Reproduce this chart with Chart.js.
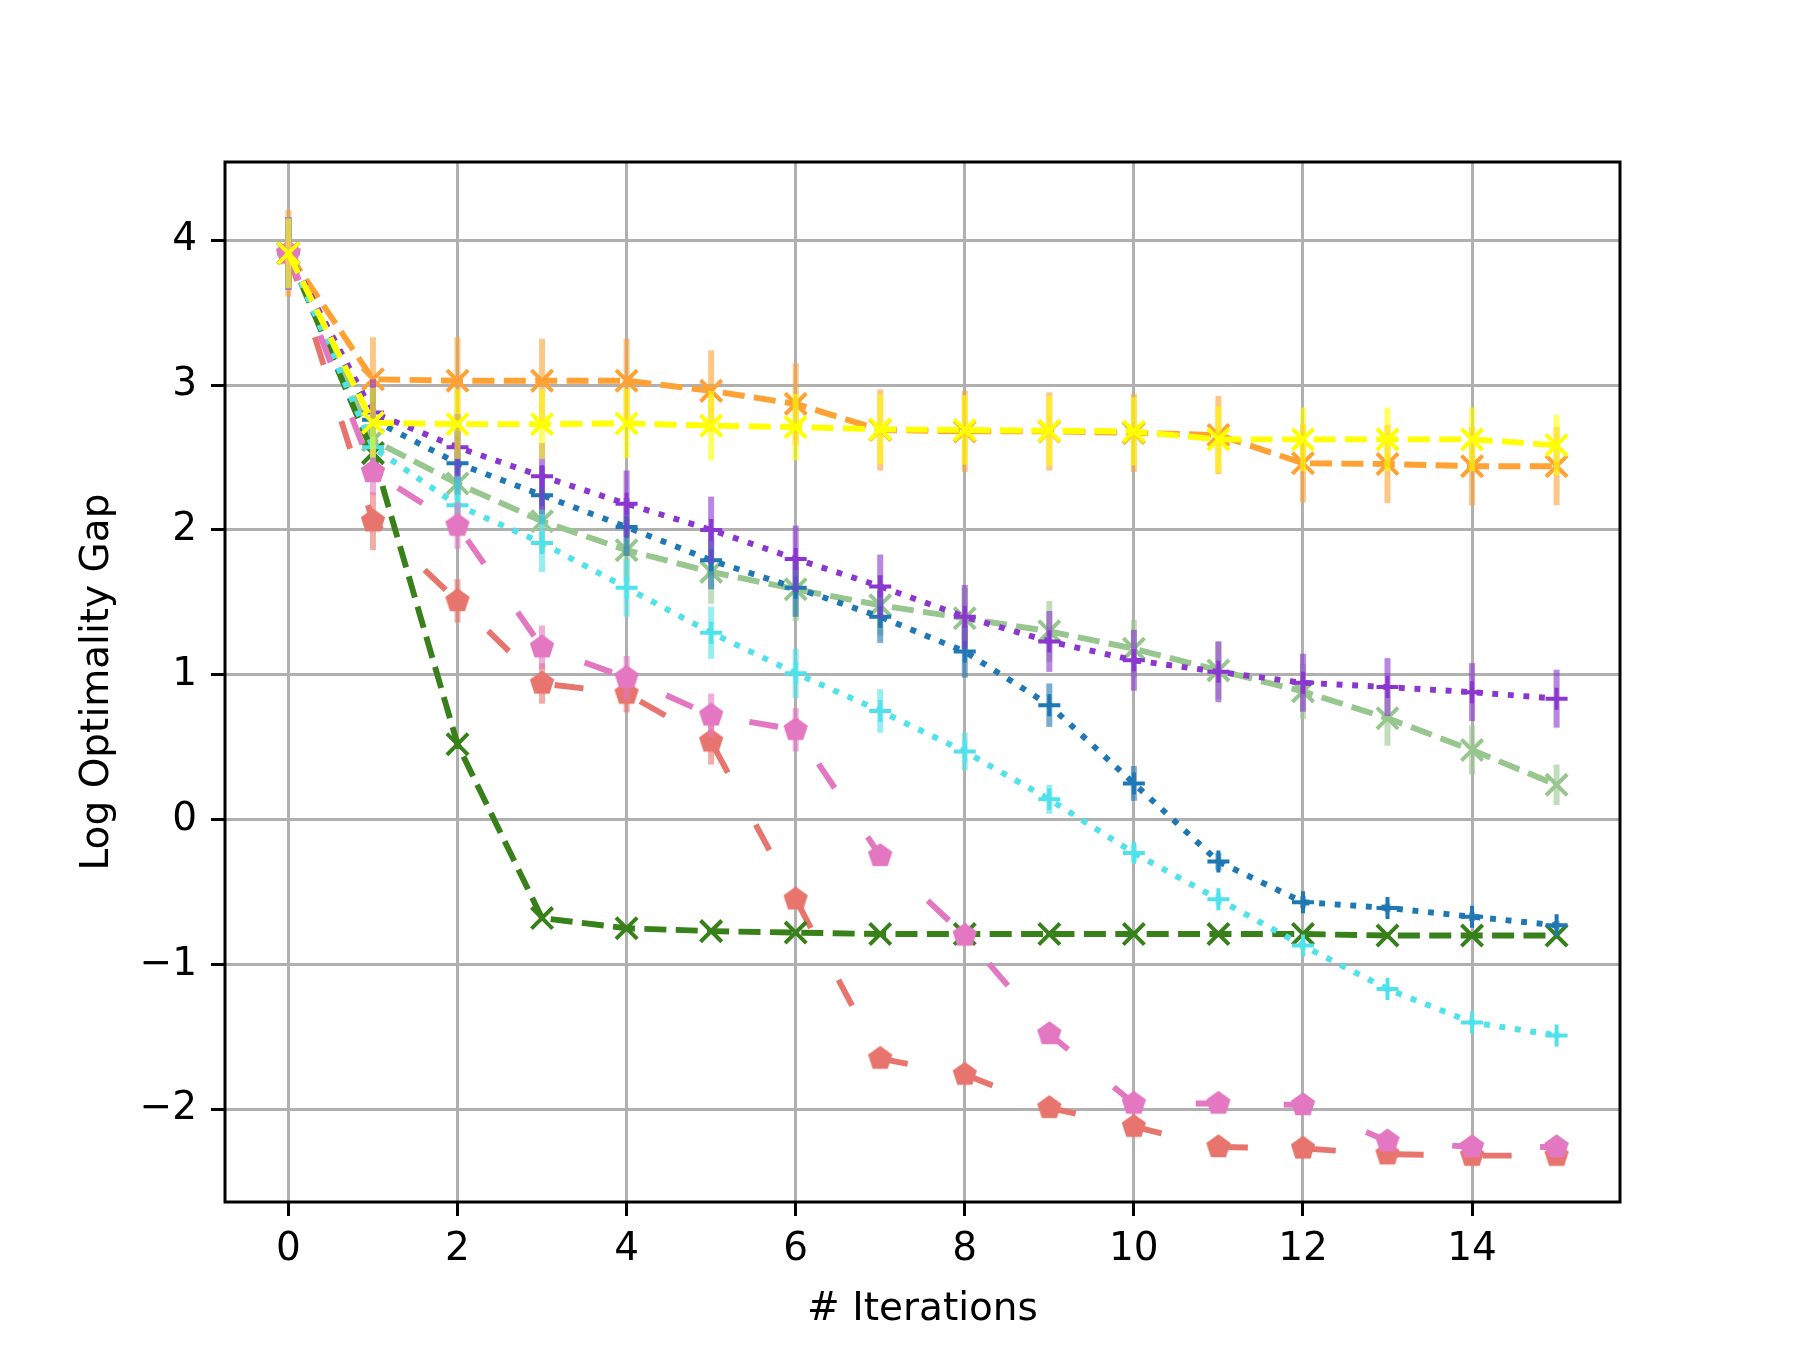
<!DOCTYPE html>
<html>
<head>
<meta charset="utf-8">
<script src="https://cdn.jsdelivr.net/npm/chart.js@4.4.1/dist/chart.umd.min.js"></script>
<style>
html, body { margin: 0; padding: 0; background: #fff; }
#wrap { width: 1800px; height: 1350px; position: relative; }
</style>
</head>
<body>
<div id="wrap"><canvas id="chart"></canvas></div>
<script>
// x positions and tick values
const iterations = [0, 1, 2, 3, 4, 5, 6, 7, 8, 9, 10, 11, 12, 13, 14, 15];
const xTicks = [0, 2, 4, 6, 8, 10, 12, 14];
const yTicks = [-2, -1, 0, 1, 2, 3, 4];

// mean log optimality gap and error (half width) per series
const orangeGap = [3.91, 3.04, 3.03, 3.03, 3.03, 2.96, 2.87, 2.69, 2.68, 2.68, 2.67, 2.655, 2.46, 2.455, 2.44, 2.44];
const orangeErr = [0.30, 0.29, 0.30, 0.29, 0.29, 0.28, 0.28, 0.28, 0.28, 0.27, 0.27, 0.27, 0.27, 0.27, 0.27, 0.27];

const yellowGap = [3.91, 2.74, 2.73, 2.73, 2.735, 2.72, 2.71, 2.695, 2.69, 2.685, 2.68, 2.625, 2.625, 2.625, 2.625, 2.585];
const yellowErr = [0.24, 0.24, 0.24, 0.24, 0.24, 0.24, 0.23, 0.24, 0.24, 0.24, 0.235, 0.23, 0.22, 0.22, 0.22, 0.21];

const purpleGap = [3.91, 2.81, 2.57, 2.37, 2.18, 2.00, 1.80, 1.61, 1.40, 1.23, 1.10, 1.02, 0.945, 0.915, 0.88, 0.835];
const purpleErr = [0.25, 0.23, 0.23, 0.23, 0.23, 0.23, 0.23, 0.22, 0.22, 0.21, 0.21, 0.21, 0.20, 0.20, 0.20, 0.20];

const blueGap = [3.91, 2.76, 2.46, 2.24, 2.02, 1.79, 1.60, 1.40, 1.16, 0.79, 0.25, -0.29, -0.57, -0.61, -0.67, -0.73];
const blueErr = [0.25, 0.22, 0.22, 0.20, 0.20, 0.20, 0.20, 0.18, 0.18, 0.15, 0.12, 0.06, 0.04, 0.03, 0.03, 0.03];

const lightGreenGap = [3.91, 2.62, 2.32, 2.06, 1.86, 1.71, 1.59, 1.48, 1.39, 1.30, 1.18, 1.03, 0.885, 0.70, 0.48, 0.24];
const lightGreenErr = [0.25, 0.22, 0.22, 0.22, 0.22, 0.22, 0.22, 0.21, 0.21, 0.21, 0.20, 0.20, 0.19, 0.19, 0.17, 0.14];

const cyanGap = [3.91, 2.57, 2.17, 1.91, 1.60, 1.29, 1.01, 0.75, 0.47, 0.14, -0.23, -0.55, -0.87, -1.17, -1.40, -1.49];
const cyanErr = [0.25, 0.20, 0.20, 0.20, 0.20, 0.18, 0.17, 0.15, 0.13, 0.10, 0.06, 0.04, 0.03, 0.02, 0.02, 0.02];

const pinkGap = [3.91, 2.40, 2.03, 1.19, 0.98, 0.72, 0.62, -0.25, -0.80, -1.48, -1.96, -1.96, -1.97, -2.22, -2.26, -2.26];
const pinkErr = [0.25, 0.16, 0.16, 0.15, 0.15, 0.15, 0.15, 0.04, 0.03, 0.03, 0.03, 0.03, 0.02, 0.02, 0.02, 0.02];

const redGap = [3.91, 2.06, 1.51, 0.94, 0.87, 0.54, -0.55, -1.65, -1.76, -1.99, -2.12, -2.26, -2.27, -2.31, -2.32, -2.32];
const redErr = [0.25, 0.20, 0.15, 0.14, 0.13, 0.16, 0.05, 0.03, 0.03, 0.02, 0.02, 0.02, 0.02, 0.02, 0.02, 0.02];

const darkGreenGap = [3.91, 2.53, 0.52, -0.68, -0.75, -0.77, -0.78, -0.79, -0.79, -0.79, -0.79, -0.79, -0.79, -0.80, -0.80, -0.80];
const darkGreenErr = [0.20, 0.05, 0.03, 0.02, 0.02, 0.02, 0.02, 0.02, 0.02, 0.02, 0.02, 0.02, 0.02, 0.02, 0.02, 0.02];

// line styles
const DASHED = [22, 9.4];
const DOTTED = [5.9, 9.7];
const LOOSE = [29, 59];
const FONT = 'DejaVu Sans';

function pentagon(color) {
    const c = document.createElement('canvas');
    c.width = 30;
    c.height = 30;
    const g = c.getContext('2d');
    g.fillStyle = color;
    g.beginPath();
    for (let k = 0; k < 5; k++) {
        const a = -Math.PI / 2 + k * 2 * Math.PI / 5;
        const px = 15 + 12.8 * Math.cos(a);
        const py = 15 + 12.8 * Math.sin(a);
        if (k === 0) g.moveTo(px, py); else g.lineTo(px, py);
    }
    g.closePath();
    g.fill();
    return c;
}

function withAlpha(hex, a) {
    const n = parseInt(hex.slice(1), 16);
    return `rgba(${(n >> 16) & 255}, ${(n >> 8) & 255}, ${n & 255}, ${a})`;
}

// first entry is drawn on top
const series = [
    { values: yellowGap, errors: yellowErr, color: '#ffff00', dash: DASHED, marker: 'crossRot', radius: 15 },
    { values: pinkGap, errors: pinkErr, color: '#e377c2', dash: LOOSE, marker: pentagon('#e377c2'), radius: 12 },
    { values: cyanGap, errors: cyanErr, color: '#50e2ea', dash: DOTTED, marker: 'cross', radius: 11 },
    { values: purpleGap, errors: purpleErr, color: '#8b36cf', dash: DOTTED, marker: 'cross', radius: 11 },
    { values: blueGap, errors: blueErr, color: '#1f77b4', dash: DOTTED, marker: 'cross', radius: 11 },
    { values: darkGreenGap, errors: darkGreenErr, color: '#38801a', dash: DASHED, marker: 'crossRot', radius: 15 },
    { values: redGap, errors: redErr, color: '#e8756d', dash: LOOSE, marker: pentagon('#e8756d'), radius: 12 },
    { values: lightGreenGap, errors: lightGreenErr, color: '#97c78e', dash: DASHED, marker: 'crossRot', radius: 15 },
    { values: orangeGap, errors: orangeErr, color: '#ffa133', dash: DASHED, marker: 'crossRot', radius: 15 }
];

const datasets = [];
series.forEach((s, k) => {
    datasets.push({
        type: 'line',
        data: iterations.map((x, i) => ({ x, y: s.values[i] })),
        borderColor: s.color,
        borderWidth: 5.9,
        borderDash: s.dash,
        fill: false,
        tension: 0,
        pointStyle: s.marker,
        pointRadius: s.radius,
        pointBorderColor: s.color,
        pointBackgroundColor: s.color,
        pointBorderWidth: 4,
        order: 2 * k
    });
    // error bars as thin floating bars
    datasets.push({
        type: 'bar',
        data: iterations.map((x, i) => ({ x, y: [s.values[i] - s.errors[i], s.values[i] + s.errors[i]] })),
        backgroundColor: withAlpha(s.color, 0.6),
        borderWidth: 0,
        grouped: false,
        maxBarThickness: 6,
        order: 2 * k + 1
    });
});

const framePlugin = {
    id: 'frame',
    afterDatasetsDraw(chart) {
        const { ctx, chartArea: a } = chart;
        ctx.save();
        ctx.strokeStyle = '#000';
        ctx.lineWidth = 3;
        ctx.strokeRect(a.left, a.top, a.right - a.left, a.bottom - a.top);
        ctx.restore();
    }
};

const tickFont = { family: FONT, size: 39 };
const gridStyle = { color: '#b0b0b0', lineWidth: 3, tickColor: '#000', tickWidth: 3, tickLength: 14, offset: false };

new Chart(document.getElementById('chart'), {
    type: 'line',
    data: { datasets },
    plugins: [framePlugin],
    options: {
        responsive: true,
        maintainAspectRatio: false,
        devicePixelRatio: 1,
        animation: false,
        layout: { padding: { left: 0, right: 180, top: 162, bottom: 0 } },
        plugins: {
            legend: { display: false },
            tooltip: { enabled: false }
        },
        scales: {
            x: {
                type: 'linear',
                min: -0.75,
                max: 15.75,
                offset: false,
                afterBuildTicks: s => { s.ticks = xTicks.map(v => ({ value: v })); },
                afterFit: s => { s.height = 148; },
                grid: gridStyle,
                border: { display: false },
                ticks: { color: '#000', font: tickFont, padding: 10, maxRotation: 0, autoSkip: false },
                title: { display: true, text: '# Iterations', color: '#000', font: tickFont, padding: { top: 0, bottom: 17 } }
            },
            y: {
                type: 'linear',
                min: -2.64,
                max: 4.54,
                offset: false,
                afterBuildTicks: s => { s.ticks = yTicks.map(v => ({ value: v })); },
                afterFit: s => { s.width = 225; },
                grid: gridStyle,
                border: { display: false },
                ticks: {
                    color: '#000',
                    font: tickFont,
                    padding: 14,
                    autoSkip: false,
                    callback: v => (v < 0 ? '\u2212' + Math.abs(v) : String(v))
                },
                title: { display: true, text: 'Log Optimality Gap', color: '#000', font: tickFont, padding: { top: 74, bottom: 0 } }
            }
        }
    }
});
</script>
</body>
</html>
